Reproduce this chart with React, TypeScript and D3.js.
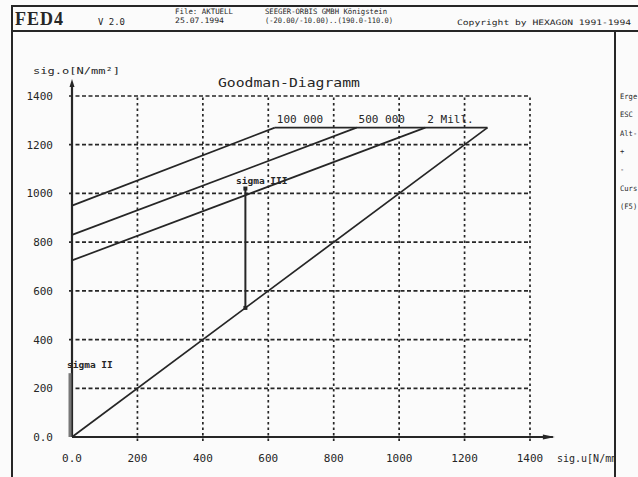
import { useEffect, useRef } from 'react';
import * as d3 from 'd3';

// axis ticks (N/mm²)
const xTicks = [0, 200, 400, 600, 800, 1000, 1200, 1400];
const yTicks = [0, 200, 400, 600, 800, 1000, 1200, 1400];
const tickLabel = (v: number) => (v === 0 ? '0.0' : String(v));

// Goodman lines: fatigue limit lines per load-cycle count
const lifeNames = ['100 000', '500 000', '2 Mill.'];
const lifeStart = [950, 830, 725];
const lifeEndX = [620, 870, 1080];
const upperLimit = 1270;

// 45° line and stress markers
const diagonal: [number, number][] = [[0, 0], [1270, 1270]];
const sigmaIII: [number, number][] = [[530, 530], [530, 1020]];
const sigmaII: [number, number][] = [[0, 0], [0, 262]];

// side panel (cut by the window edge in the original)
const sideTexts = ['Erge', 'ESC', 'Alt-', '+', '-', 'Curs', '(F5)'];

export default function App() {
  const svgRef = useRef<SVGSVGElement>(null);

  useEffect(() => {
    if (!svgRef.current) return;
    const svg = d3.select(svgRef.current);
    svg.selectAll('*').remove();

    const ink = '#262626';
    const mono = '"DejaVu Sans Mono", "Liberation Mono", monospace';

    const x = d3.scaleLinear().domain([0, 1400]).range([72, 530]);
    const y = d3.scaleLinear().domain([0, 1400]).range([437, 96]);

    svg.append('rect').attr('width', 638).attr('height', 477).attr('fill', '#fbfbfb');

    // frame + header
    svg.append('line').attr('x1', 12).attr('x2', 12).attr('y1', 5).attr('y2', 477)
      .attr('stroke', ink).attr('stroke-width', 2);
    svg.append('line').attr('x1', 12).attr('x2', 638).attr('y1', 6).attr('y2', 6)
      .attr('stroke', ink).attr('stroke-width', 2);
    svg.append('line').attr('x1', 12).attr('x2', 638).attr('y1', 31).attr('y2', 31)
      .attr('stroke', ink).attr('stroke-width', 2);
    svg.append('line').attr('x1', 615).attr('x2', 615).attr('y1', 31).attr('y2', 477)
      .attr('stroke', ink).attr('stroke-width', 2);

    svg.append('text').attr('x', 15).attr('y', 25).text('FED4')
      .attr('font-family', '"Liberation Serif", serif').attr('font-weight', 'bold')
      .attr('font-size', 18).attr('textLength', 48).attr('fill', ink);
    const hdr = (tx: number, ty: number, s: string, len: number, size = 8) =>
      svg.append('text').attr('x', tx).attr('y', ty).text(s)
        .attr('font-family', mono).attr('font-size', size)
        .attr('textLength', len).attr('lengthAdjust', 'spacingAndGlyphs').attr('fill', ink);
    hdr(98, 25, 'V 2.0', 27);
    hdr(175, 14, 'File: AKTUELL', 58, 7.5);
    hdr(175, 23, '25.07.1994', 49, 7.5);
    hdr(265, 14, 'SEEGER-ORBIS GMBH  Königstein', 122, 7.5);
    hdr(265, 23, '(-20.00/-10.00)..(190.0-110.0)', 128, 7.5);
    hdr(457, 25, 'Copyright by HEXAGON 1991-1994', 174, 7.5);

    sideTexts.forEach((t, i) => {
      hdr(620, 99 + i * 18.3, t, t.length * 4.3, 7.5);
    });

    // grid
    const g = svg.append('g');
    g.selectAll('.hgrid').data(yTicks.filter(v => v > 0)).join('line')
      .attr('x1', x(0) - 3).attr('x2', x(1400))
      .attr('y1', d => y(d)).attr('y2', d => y(d))
      .attr('stroke', ink).attr('stroke-width', 1.7).attr('stroke-dasharray', '4,2.5');
    g.selectAll('.vgrid').data(xTicks.filter(v => v > 0)).join('line')
      .attr('x1', d => x(d)).attr('x2', d => x(d))
      .attr('y1', y(0) + 4).attr('y2', y(1400))
      .attr('stroke', ink).attr('stroke-width', 1.7).attr('stroke-dasharray', '2.5,3');

    // axes
    g.append('line').attr('x1', x(0)).attr('x2', x(0)).attr('y1', y(0)).attr('y2', y(1445))
      .attr('stroke', ink).attr('stroke-width', 2.2);
    g.append('path')
      .attr('d', `M${x(0)},${y(1445) - 6} l-2.5,8 l5,0 z`).attr('fill', ink);
    g.append('line').attr('x1', x(0)).attr('x2', x(1470)).attr('y1', y(0)).attr('y2', y(0))
      .attr('stroke', ink).attr('stroke-width', 2);
    g.append('path')
      .attr('d', `M${x(1470) + 2},${y(0)} l-12,-2.5 l0,5 z`).attr('fill', ink);

    // tick labels
    g.selectAll('.ylab').data(yTicks).join('text')
      .attr('x', 53).attr('y', d => y(d) + 4).attr('text-anchor', 'end')
      .attr('font-family', mono).attr('font-size', 11).attr('fill', ink)
      .text(tickLabel);
    g.selectAll('.xlab').data(xTicks).join('text')
      .attr('x', d => x(d)).attr('y', 462).attr('text-anchor', 'middle')
      .attr('font-family', mono).attr('font-size', 11).attr('fill', ink)
      .text(tickLabel);

    svg.append('defs').append('clipPath').attr('id', 'panel')
      .append('rect').attr('x', 0).attr('y', 0).attr('width', 614).attr('height', 477);
    g.append('text').attr('x', 557).attr('y', 462).attr('clip-path', 'url(#panel)')
      .attr('font-family', mono).attr('font-size', 10).attr('fill', ink)
      .text('sig.u[N/mm²]');
    g.append('text').attr('x', 33).attr('y', 74)
      .attr('font-family', mono).attr('font-size', 9.5).attr('fill', ink)
      .attr('textLength', 87).attr('lengthAdjust', 'spacingAndGlyphs')
      .text('sig.o[N/mm²]');
    g.append('text').attr('x', 218).attr('y', 87)
      .attr('font-family', mono).attr('font-size', 13).attr('fill', ink)
      .attr('textLength', 142).attr('lengthAdjust', 'spacingAndGlyphs')
      .text('Goodman-Diagramm');

    const line = d3.line<[number, number]>().x(d => x(d[0])).y(d => y(d[1]));
    const draw = (pts: [number, number][], w = 1.7, color = ink) =>
      g.append('path').datum(pts).attr('d', line).attr('fill', 'none')
        .attr('stroke', color).attr('stroke-width', w);

    draw(diagonal);
    draw([[lifeEndX[0], upperLimit], [diagonal[1][0], upperLimit]]);
    lifeNames.forEach((name, i) => {
      draw([[0, lifeStart[i]], [lifeEndX[i], upperLimit]]);
      g.append('text').attr('x', x(lifeEndX[i]) + 2).attr('y', y(upperLimit) - 5)
        .attr('font-family', mono).attr('font-size', 11).attr('fill', ink)
        .text(name);
    });

    draw(sigmaIII, 2);
    sigmaIII.forEach(p => {
      g.append('rect').attr('x', x(p[0]) - 2).attr('y', y(p[1]) - 2)
        .attr('width', 4).attr('height', 4).attr('fill', ink);
    });
    g.append('text').attr('x', 236).attr('y', 184)
      .attr('font-family', mono).attr('font-size', 9.5).attr('fill', ink)
      .attr('font-weight', 'bold').text('sigma III');

    g.append('path').datum(sigmaII).attr('d', line.x(d => x(d[0]) - 2))
      .attr('fill', 'none').attr('stroke', '#777').attr('stroke-width', 3);
    g.append('text').attr('x', 67).attr('y', 368)
      .attr('font-family', mono).attr('font-size', 9.5).attr('fill', ink)
      .attr('font-weight', 'bold').text('sigma II');
  }, []);

  return (
    <svg
      ref={svgRef}
      width={638}
      height={477}
      style={{ position: 'absolute', left: 0, top: 0, display: 'block' }}
    />
  );
}
